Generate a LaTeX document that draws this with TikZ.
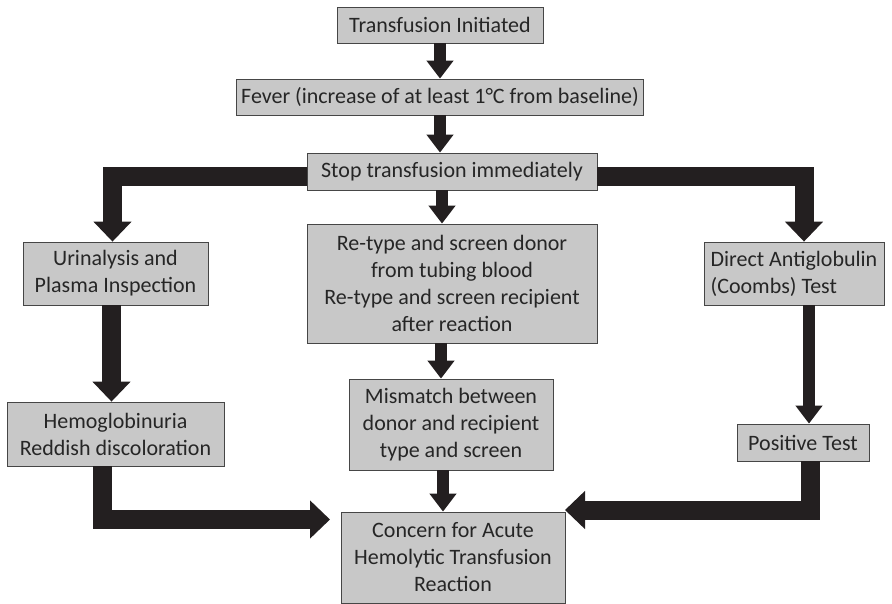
\documentclass[tikz,border=0pt]{standalone}
\usepackage{fontspec}
\setmainfont{Carlito}
\usetikzlibrary{arrows.meta}
\definecolor{boxgray}{RGB}{200,200,200}
\definecolor{boxline}{RGB}{70,70,70}
\definecolor{arrowblack}{RGB}{35,31,32}
\begin{document}
\begin{tikzpicture}[
	x=1pt, y=-1pt,
	% Define the style for the boxes
	box/.style={rectangle, draw=boxline, fill=boxgray, line width=0.8pt, inner sep=0pt,
		align=center, font=\fontsize{22}{27}\selectfont, text=black!85},
	% Block arrows, thin and thick
	thinarrow/.style={draw=arrowblack, line width=12pt, line join=miter,
		-{Triangle[width=26pt,length=18pt,fill=arrowblack]}},
	thickarrow/.style={draw=arrowblack, line width=19pt, line join=miter,
		-{Triangle[width=37pt,length=20pt,fill=arrowblack]}}
	]
	\useasboundingbox (0,0) rectangle (892,603);
	
	% --- BOXES ---
	% Format: \node (name) at (x,y) [box, size] {text};
	
	\node (init) at (440,25) [box, minimum width=206pt, minimum height=36pt] {Transfusion Initiated};
	\node (fever) at (440,97) [box, minimum width=407pt, minimum height=36pt] {Fever (increase of at least 1°C from baseline)};
	\node (stop) at (452,171.5) [box, minimum width=290pt, minimum height=37pt] {Stop transfusion immediately};
	\node (urin) at (115.5,273.5) [box, minimum width=185pt, minimum height=63pt] {Urinalysis and\\Plasma Inspection};
	\node (retype) at (452,283.5) [box, minimum width=290pt, minimum height=119pt] {Re-type and screen donor\\from tubing blood\\Re-type and screen recipient\\after reaction};
	\node (direct) at (794,273.5) [box, minimum width=180pt, minimum height=63pt, align=left] {Direct Antiglobulin\\(Coombs) Test};
	\node (hemo) at (115.5,434) [box, minimum width=217pt, minimum height=64pt] {Hemoglobinuria\\Reddish discoloration};
	\node (mism) at (451,424.5) [box, minimum width=204pt, minimum height=91pt] {Mismatch between\\donor and recipient\\type and screen};
	\node (pos) at (803,442.5) [box, minimum width=132pt, minimum height=37pt] {Positive Test};
	\node (concern) at (453,557.5) [box, minimum width=224pt, minimum height=91pt] {Concern for Acute\\Hemolytic Transfusion\\Reaction};
	
	% free ends of the two arrows into the last box
	\coordinate (cl) at (330,519.5);
	\coordinate (cr) at (565,510);
	
	% --- ARROWS ---
	
	\draw[thinarrow] (init.south) -- (fever.north);
	\draw[thinarrow] (fever.south) -- (fever.south |- stop.north);
	\draw[thinarrow] ([xshift=-10pt]stop.south) -- ([xshift=-10pt]retype.north);
	\draw[thinarrow] ([xshift=-11pt]retype.south) -- ([xshift=-10pt]mism.north);
	\draw[thinarrow] ([xshift=-8pt]mism.south) -- ([xshift=-8pt]mism.south |- concern.north);
	\draw[thickarrow] ([yshift=-5pt]stop.west) -| ([xshift=-3pt]urin.north);
	\draw[thickarrow] ([yshift=-5pt]stop.east) -| ([xshift=10pt]direct.north);
	\draw[thickarrow] ([xshift=-4pt]urin.south) -- ([xshift=-4pt]hemo.north);
	\draw[thinarrow] ([xshift=6pt]pos.north |- direct.south) -- ([xshift=6pt]pos.north);
	\draw[thickarrow] ([xshift=-13pt]hemo.south) |- (cl);
	\draw[thickarrow] ([xshift=7pt]pos.south) |- (cr);
	
\end{tikzpicture}
\end{document}
